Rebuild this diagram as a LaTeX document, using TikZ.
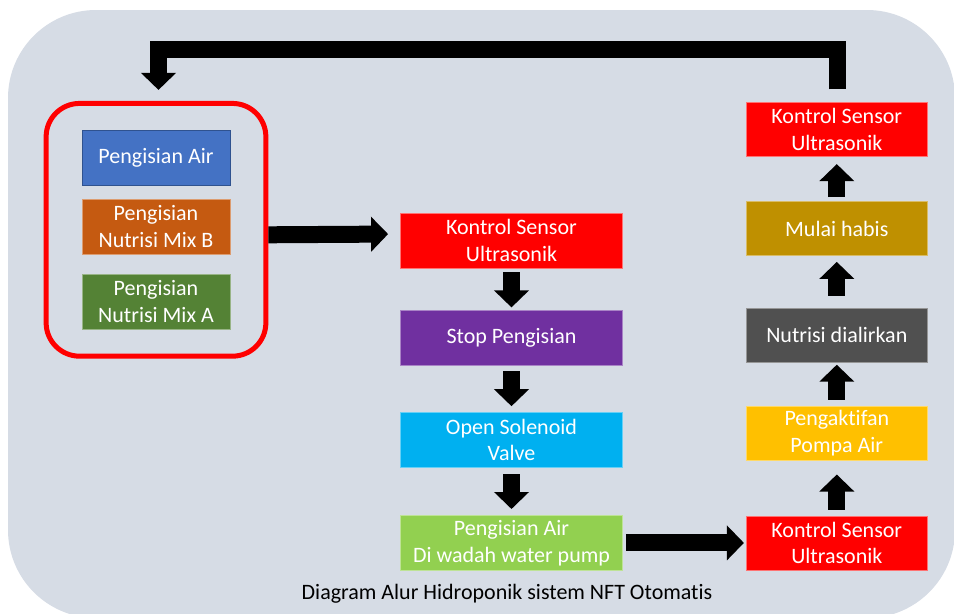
\documentclass[tikz,border=0pt]{standalone}
\usepackage{fontspec}
\setmainfont{Carlito}[Ligatures=NoCommon]
\usepackage{tikz}
\tikzset{>=latex}
\usepackage{xcolor}
\usetikzlibrary{positioning,calc,fit}
\usetikzlibrary{arrows.meta}
\definecolor{latar}{HTML}{D6DCE5}
\definecolor{biru}{HTML}{4472C4}
\definecolor{birutepi}{HTML}{2F528F}
\definecolor{oranye}{HTML}{C55A11}
\definecolor{hijautua}{HTML}{548235}
\definecolor{merah}{HTML}{FF0000}
\definecolor{ungu}{HTML}{7030A0}
\definecolor{cyan}{HTML}{00B0F0}
\definecolor{hijaumuda}{HTML}{92D050}
\definecolor{kuning}{HTML}{FFC000}
\definecolor{abu}{HTML}{505050}
\definecolor{emas}{HTML}{BF9000}
\tikzset{
	tahap/.style={rectangle,minimum height=41.25pt,inner sep=1pt,text=white,align=center,font=\fontsize{16.5}{20}\selectfont,line width=0.6pt},
	isian/.style={tahap,minimum width=111pt},
	tengah/.style={tahap,minimum width=166.5pt},
	kanan/.style={tahap,minimum width=135.75pt,minimum height=40.5pt},
	air/.style={fill=biru,draw=birutepi},
	mixb/.style={fill=oranye,draw=oranye!60!white},
	mixa/.style={fill=hijautua,draw=hijautua!60!white},
	sensor/.style={fill=merah,draw=merah!55!white},
	stop/.style={fill=ungu,draw=ungu!60!white},
	valve/.style={fill=cyan,draw=cyan!60!white},
	wadah/.style={fill=hijaumuda,draw=hijaumuda!60!white},
	pompa/.style={fill=kuning,draw=kuning!60!white},
	alir/.style={fill=abu,draw=abu!60!white},
	habis/.style={fill=emas,draw=emas!60!white},
	bingkai/.style={
		rectangle,draw=merah,line width=3.75pt,
		rounded corners=25pt,
		inner xsep=26.6pt,inner ysep=20pt,
	},
	panah/.style={
		draw,line width=12.75pt,-{Triangle[width=25.5pt,length=12.75pt]},
	},
	judul/.style={text=black,font=\fontsize{16.5}{20}\selectfont},
}

\begin{document}
\begin{tikzpicture}[x=0.75pt,y=-0.75pt]
				\useasboundingbox (0,0) rectangle (954,614);
				\fill[latar,rounded corners=66pt] (8,10) rectangle (955,618);
				
				% Kelompok pengisian
				\node[isian,air] (pengisianair) at (156,158) {Pengisian Air};
				\node[isian,mixb,below=9.75pt of pengisianair] (nutrisib) {Pengisian\\Nutrisi Mix B};
				\node[isian,mixa,below=14.25pt of nutrisib] (nutrisia) {Pengisian\\Nutrisi Mix A};
				\node[bingkai,fit=(pengisianair)(nutrisib)(nutrisia)] (grup) {};
				
				% Kolom tengah
				\node[tengah,sensor] (sensor1) at (511.5,240.5) {Kontrol Sensor\\Ultrasonik};
				\node[tengah,stop,below=31.5pt of sensor1] (stoppengisian) {Stop Pengisian};
				\node[tengah,valve,below=34.5pt of stoppengisian] (solenoid) {Open Solenoid\\Valve};
				\node[tengah,wadah,below=35.25pt of solenoid] (isiwadah) {Pengisian Air\\Di wadah water pump};
				
				% Kolom kanan
				\node[kanan,sensor,right=92.25pt of isiwadah] (sensor2) {Kontrol Sensor\\Ultrasonik};
				\node[kanan,pompa,above=41.25pt of sensor2] (aktifpompa) {Pengaktifan\\Pompa Air};
				\node[kanan,alir,above=32.25pt of aktifpompa] (dialirkan) {Nutrisi dialirkan};
				\node[kanan,habis,above=39pt of dialirkan] (mulaihabis) {Mulai habis};
				\node[kanan,sensor,above=33pt of mulaihabis] (sensor3) {Kontrol Sensor\\Ultrasonik};
				
				\node[judul] (keterangan) at (507,594) {Diagram Alur Hidroponik sistem NFT Otomatis};
				
				% Panah
				\draw[panah,shorten >=9pt] ($(grup.east)+(0,5)$) -- ($(sensor1.west)+(0,-6.5)$);
				\draw[panah,shorten <=3pt,shorten >=2.25pt] (sensor1) -- (stoppengisian);
				\draw[panah,shorten <=3.75pt,shorten >=4.5pt] (stoppengisian) -- (solenoid);
				\draw[panah,shorten <=4.5pt,shorten >=4.5pt] (solenoid) -- (isiwadah);
				\draw[panah,shorten <=2.25pt,shorten >=1.5pt] (isiwadah) -- (sensor2);
				\draw[panah,shorten <=4.5pt,shorten >=10.5pt] (sensor2) -- (aktifpompa);
				\draw[panah,shorten <=4.5pt,shorten >=1.5pt] (aktifpompa) -- (dialirkan);
				\draw[panah,shorten <=9pt,shorten >=4.5pt] (dialirkan) -- (mulaihabis);
				\draw[panah,shorten <=3pt,shorten >=5.25pt] (mulaihabis) -- (sensor3);
				\draw[panah,line join=miter] ($(sensor3.north)+(0.5,-13)$) -- ++(0,-39.5) -| ($(grup.north)+(2.5,-11)$);
			\end{tikzpicture}
\end{document}
